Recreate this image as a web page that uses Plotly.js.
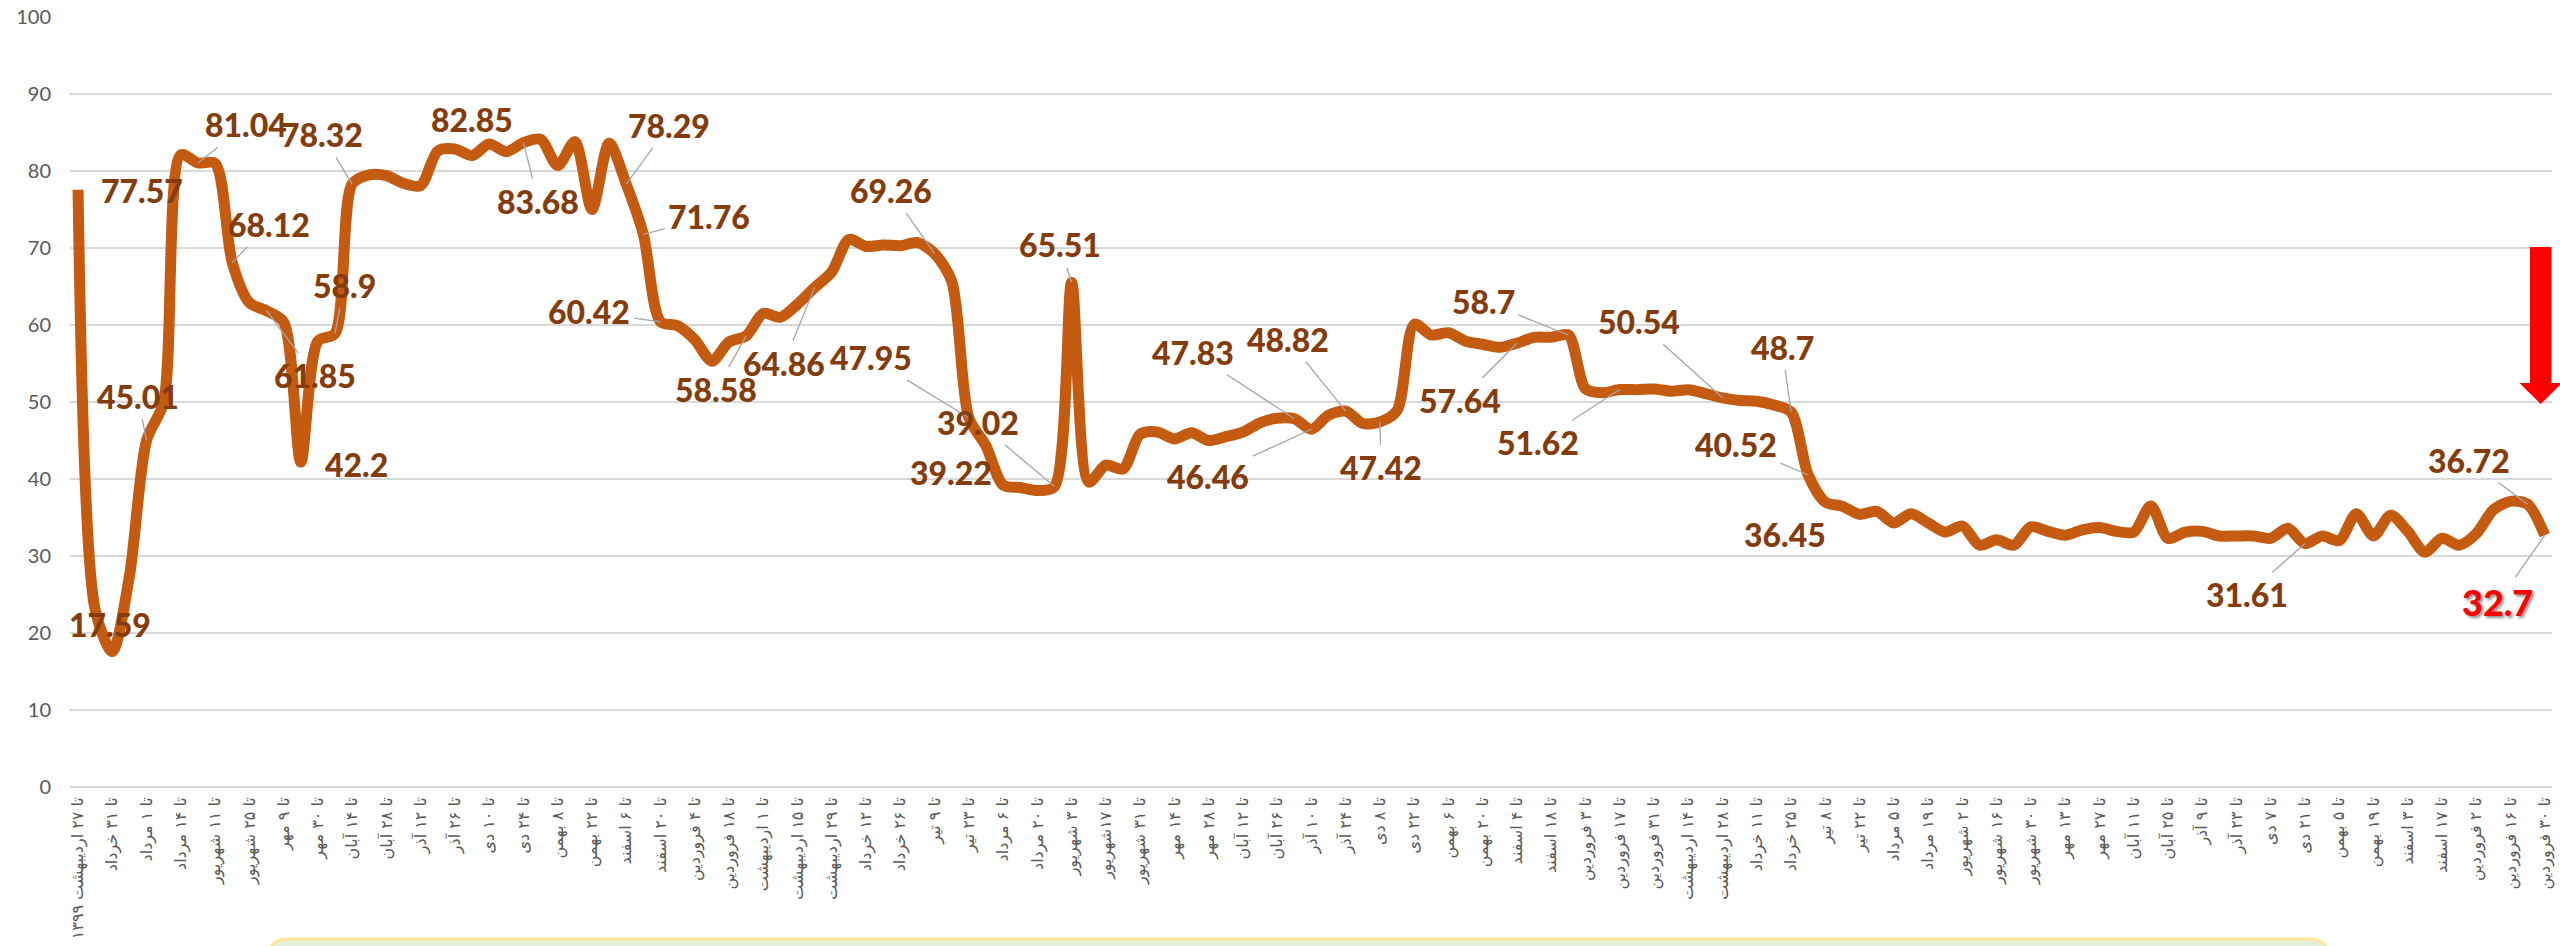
<!DOCTYPE html>
<html>
<head>
<meta charset="utf-8">
<script src="https://cdn.plot.ly/plotly-3.0.1.min.js"></script>
<style>
  html, body { margin: 0; padding: 0; background: #ffffff; }
  #chart { width: 2560px; height: 946px; }
</style>
</head>
<body>
<div id="chart"></div>
<script>
// ---- DATA ----
// Tick labels (every other weekly observation is labelled)
const tickLabels = ["تا ۲۷ اردیبهشت ۱۳۹۹","تا ۳۱ خرداد","تا ۱ مرداد","تا ۱۴ مرداد","تا ۱۱ شهریور","تا ۲۵ شهریور","تا ۹ مهر","تا ۳۰ مهر","تا ۱۴ آبان","تا ۲۸ آبان","تا ۱۲ آذر","تا ۲۶ آذر","تا ۱۰ دی","تا ۲۴ دی","تا ۸ بهمن","تا ۲۲ بهمن","تا ۶ اسفند","تا ۲۰ اسفند","تا ۴ فروردین","تا ۱۸ فروردین","تا ۱ اردیبهشت","تا ۱۵ اردیبهشت","تا ۲۹ اردیبهشت","تا ۱۲ خرداد","تا ۲۶ خرداد","تا ۹ تیر","تا ۲۳ تیر","تا ۶ مرداد","تا ۲۰ مرداد","تا ۳ شهریور","تا ۱۷شهریور","تا ۳۱ شهریور","تا ۱۴ مهر","تا ۲۸ مهر","تا ۱۲ آبان","تا ۲۶ آبان","تا ۱۰ آذر","تا ۲۴ آذر","تا ۸ دی","تا ۲۲ دی","تا ۶ بهمن","تا ۲۰ بهمن","تا ۴ اسفند","تا ۱۸ اسفند","تا ۳ فروردین","تا ۱۷ فروردین","تا ۳۱ فروردین","تا ۱۴ اردیبهشت","تا ۲۸ اردیبهشت","تا ۱۱ خرداد","تا ۲۵ خرداد","تا ۸ تیر","تا ۲۲ تیر","تا ۵ مرداد","تا ۱۹ مرداد","تا ۲ شهریور","تا ۱۶ شهریور","تا ۳۰ شهریور","تا ۱۳ مهر","تا ۲۷ مهر","تا ۱۱ آبان","تا ۲۵ آبان","تا ۹ آذر","تا ۲۳ آذر","تا ۷ دی","تا ۲۱ دی","تا ۵ بهمن","تا ۱۹ بهمن","تا ۳ اسفند","تا ۱۷ اسفند","تا ۲ فروردین","تا ۱۶ فروردین","تا ۳۰ فروردین"];

// Series values (one per observation)
const values = [
  77.57, 23.0, 17.59, 27.4, 45.01, 50.0, 82.1, 81.04, 81.0, 68.12,
  62.9, 61.85, 60.4, 42.2, 57.9, 58.9, 78.32, 79.5, 79.4, 78.4,
  78.1, 82.6, 82.85, 82.0, 83.5, 82.5, 83.68, 84.1, 80.7, 83.8,
  75.0, 83.6, 78.29, 71.76, 60.42, 59.9, 58.1, 55.3, 57.8, 58.58,
  61.5, 61.0, 62.7, 64.86, 66.9, 71.1, 70.2, 70.4, 70.3, 70.7,
  69.26, 65.7, 47.95, 44.3, 39.22, 38.9, 38.5, 39.02, 65.51, 39.6,
  41.8, 41.3, 45.8, 46.1, 45.2, 46.0, 45.0, 45.5, 46.1, 47.3,
  47.9, 47.83, 46.46, 48.3, 48.82, 47.2, 47.42, 48.9, 60.1, 58.7,
  59.0, 57.9, 57.5, 57.1, 57.64, 58.4, 58.4, 58.7, 51.7, 51.2,
  51.62, 51.6, 51.7, 51.4, 51.6, 51.1, 50.54, 50.2, 50.1, 49.6,
  48.7, 40.52, 37.0, 36.45, 35.4, 35.8, 34.3, 35.5, 34.3, 33.1,
  33.9, 31.4, 32.1, 31.4, 33.8, 33.2, 32.7, 33.4, 33.7, 33.2,
  33.1, 36.5, 32.3, 33.1, 33.2, 32.6, 32.6, 32.6, 32.3, 33.6,
  31.61, 32.6, 32.0, 35.5, 32.6, 35.3, 33.2, 30.5, 32.3, 31.4,
  32.9, 36.0, 37.1, 36.72, 32.7
];

// Observations that carry a data label
const labelledPoints = [0,2,4,7,9,11,13,15,16,22,26,32,33,34,39,43,50,52,54,57,58,71,72,74,76,84,87,90,96,100,101,103,130,143,144];

// ---- STYLE / PLACEMENT (presentation only) ----
// label offset from its point in px [dx, dy(down)], leader line flag
const labelPlacement = {
  0:[64,1,false], 2:[-2,-27,false], 4:[-9,-44,true], 7:[48,-38,true], 9:[37,-38,true],
  11:[49,65,true], 13:[56,2,false], 15:[9,-48,true], 16:[-30,-49,true], 22:[17,-30,false],
  26:[15,59,true], 32:[43,-59,true], 33:[66,-18,true], 34:[-71,-10,true], 39:[-30,54,true],
  43:[-31,76,true], 50:[-44,-63,true], 52:[-98,-60,true], 54:[-52,-13,false], 57:[-76,-64,true],
  58:[-12,-38,true], 71:[-101,-66,true], 72:[-103,47,true], 74:[-58,-72,true], 76:[1,46,true],
  84:[-57,57,true], 87:[-85,-34,true], 90:[-82,53,true], 96:[-84,-76,true], 100:[-9,-65,true],
  101:[-72,-31,true], 103:[-57,28,false], 130:[-58,51,true], 143:[-59,-44,true], 144:[-47,67,true]
};
const highlightPoint = 144;

const M = {l:70, r:8, t:17, b:159};
const W = 2560, H = 946;
const PW = W - M.l - M.r, PH = H - M.t - M.b;
function px2paper(x, y){ return [(x - M.l)/PW, (H - M.b - y)/PH]; }
function pathFromPx(pts, closed){
  return pts.map((p,k)=>{ const q = px2paper(p[0],p[1]); return (k?'L':'M') + q[0].toFixed(5) + ',' + q[1].toFixed(5); }).join(' ') + (closed?' Z':'');
}

const xs = values.map((_, i) => i);
const tickVals = tickLabels.map((_, k) => k * 2);

const annotations = labelledPoints.map(i => {
  const p = labelPlacement[i];
  const isHi = i === highlightPoint;
  const a = {
    x: i, y: values[i], xref: 'x', yref: 'y',
    text: String(values[i]),
    font: {family: 'Lato, "Open Sans", sans-serif', size: isHi ? 36 : 32, weight: 900,
           color: isHi ? '#FF0000' : '#843C0C'}
  };
  if (isHi) a.font.shadow = '2px 2px 3px rgba(0,0,0,0.45)';
  if (p[2]) {
    Object.assign(a, {showarrow: true, ax: p[0], ay: p[1], arrowhead: 0, arrowwidth: 1.3,
      arrowcolor: '#A6A6A6', standoff: 0, startstandoff: 2});
  } else {
    Object.assign(a, {showarrow: false, xshift: p[0], yshift: -p[1]});
  }
  return a;
});

// decorative shapes
const boxR = 18;
const boxPts = (function(){
  const x0 = 269, x1 = 2328, y0 = 939, y1 = 990;
  const a = px2paper(x0, y1), b = px2paper(x0, y0 + boxR), c = px2paper(x0, y0), d = px2paper(x0 + boxR, y0);
  const e = px2paper(x1 - boxR, y0), f = px2paper(x1, y0), g = px2paper(x1, y0 + boxR), h = px2paper(x1, y1);
  const s = v => v[0].toFixed(5) + ',' + v[1].toFixed(5);
  return 'M' + s(a) + ' L' + s(b) + ' Q' + s(c) + ' ' + s(d) + ' L' + s(e) + ' Q' + s(f) + ' ' + s(g) + ' L' + s(h) + ' Z';
})();

const shapes = [
  {type: 'path', xref: 'paper', yref: 'paper', path: boxPts,
   fillcolor: '#E2F0D9', line: {color: '#FFE699', width: 3}, layer: 'below'},
  {type: 'path', xref: 'paper', yref: 'paper',
   path: pathFromPx([[2530,247],[2551.5,247],[2551.5,383],[2562,383],[2540.75,404],[2519.5,383],[2530,383]], true),
   fillcolor: '#FF0000', line: {color: '#FF0000', width: 0}, layer: 'above'}
];

const trace = {
  x: xs, y: values, type: 'scatter', mode: 'lines',
  line: {color: '#C55A11', width: 11, shape: 'spline', smoothing: 0.8},
  hoverinfo: 'skip', showlegend: false, cliponaxis: false
};

const layout = {
  width: W, height: H,
  margin: M,
  paper_bgcolor: '#ffffff', plot_bgcolor: '#ffffff',
  showlegend: false,
  xaxis: {
    range: [-0.47, 144.42], showgrid: false, zeroline: false, showline: false,
    tickmode: 'array', tickvals: tickVals, ticktext: tickLabels, tickangle: -90,
    ticks: '', ticklabelstandoff: 6,
    tickfont: {family: '"DejaVu Sans", "Noto Sans", sans-serif', size: 16, color: '#595959'}
  },
  yaxis: {
    range: [0, 100], dtick: 10, tick0: 0, showgrid: true, gridcolor: '#D9D9D9', gridwidth: 2,
    zeroline: true, zerolinecolor: '#D9D9D9', zerolinewidth: 2, showline: false,
    ticks: '', ticklabelstandoff: 18,
    tickfont: {family: 'Lato, "Open Sans", sans-serif', size: 20, color: '#595959'}
  },
  annotations: annotations,
  shapes: shapes
};

Plotly.newPlot('chart', [trace], layout, {staticPlot: true, displayModeBar: false});
</script>
</body>
</html>
